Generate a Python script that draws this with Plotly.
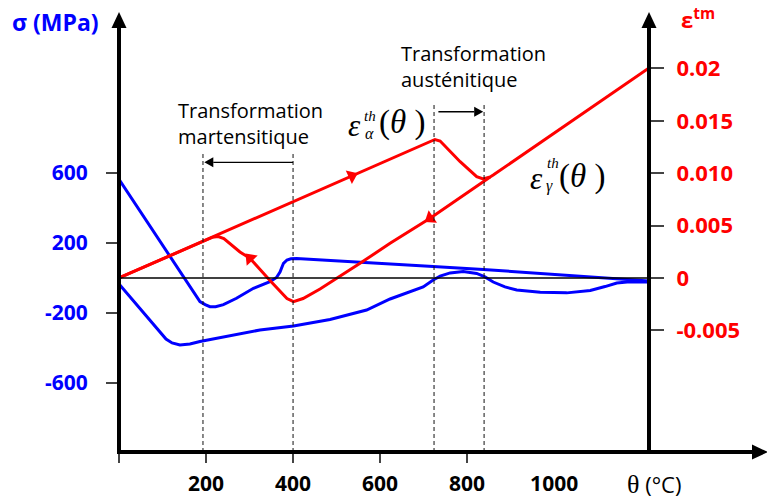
import plotly.graph_objects as go

# ---------------- data ----------------
# stress curves (MPa) vs temperature (°C)
theta_sig_heat = [0, 186, 198, 209, 222, 240, 270, 309, 347, 362, 370, 378, 386, 395, 408, 600, 722, 837, 968, 1105, 1218]
sig_heat = [564, -135, -152, -164, -164, -152, -116, -59, -21, 3, 34, 84, 103, 110, 111, 86, 66, 49, 26, 3, -17]

theta_sig_cool = [0, 108, 122, 140, 163, 186, 324, 401, 485, 569, 623, 699, 722, 738, 761, 791, 822, 841, 860, 887, 914, 968, 1029, 1083, 1117, 1144, 1174, 1218]
sig_cool = [-34, -349, -371, -383, -377, -363, -297, -274, -237, -183, -120, -51, -11, 11, 29, 37, 26, 6, -23, -51, -69, -82, -85, -71, -49, -29, -22, -23]

# thermo-metallurgical strain vs temperature
theta_eps_heat = [0, 715, 726, 738, 784, 822, 837, 853, 860, 1218]
eps_heat = [0, 0.01298, 0.01322, 0.01307, 0.01110, 0.00967, 0.00945, 0.00964, 0.00983, 0.02004]

theta_eps_cool = [853, 715, 623, 554, 462, 423, 401, 386, 347, 301, 278, 255, 241, 228, 214, 0]
eps_cool = [0.00964, 0.00570, 0.00331, 0.00140, -0.00105, -0.00196, -0.00226, -0.00196, -0.00024, 0.00188, 0.00248, 0.00329, 0.00377, 0.00396, 0.00388, 0]

# direction arrows on the strain curve
theta_arrows = [535, 715, 301]
eps_arrows = [0.00974, 0.00570, 0.00188]

# transformation temperatures (°C)
mf, ms = 193, 400
ac1, ac3 = 724, 839

x_tickvals = [200, 400, 600, 800, 1000]
x_ticktext = ["200", "400", "600", "800", "1000"]
x_minor_ticks = [0, 200, 400, 600, 800]
sig_tickvals = [600, 200, -200, -600]
sig_ticktext = ["600", "200", "-200", "-600"]
eps_tickvals = [0.02, 0.015, 0.010, 0.005, 0, -0.005]
eps_ticktext = ["0.02", "0.015", "0.010", "0.005", "0", "-0.005"]

# ---------------- layout helpers ----------------
W, H = 767, 500
PL, PR, PT, PB = 119, 649, 13, 452
XR = [0, 1218]
SIG_R = [-994.3, 1514.3]
EPS_R = [-0.016606, 0.025291]


def fx(px):
    return (px - PL) / (PR - PL)


def fy(py):
    return (PB - py) / (PB - PT)


def px_of_theta(t):
    return PL + (t - XR[0]) / (XR[1] - XR[0]) * (PR - PL)


def py_of_sig(s):
    return PB - (s - SIG_R[0]) / (SIG_R[1] - SIG_R[0]) * (PB - PT)


BLUE = "#0000FF"
RED = "#FF0000"
FONT = "Open Sans"
SERIF = "Liberation Serif"

fig = go.Figure()

fig.add_trace(go.Scatter(x=theta_sig_heat, y=sig_heat, mode="lines",
                         line=dict(color=BLUE, width=3), yaxis="y", hoverinfo="skip"))
fig.add_trace(go.Scatter(x=theta_sig_cool, y=sig_cool, mode="lines",
                         line=dict(color=BLUE, width=3), yaxis="y", hoverinfo="skip"))
fig.add_trace(go.Scatter(x=theta_eps_heat, y=eps_heat, mode="lines",
                         line=dict(color=RED, width=3), yaxis="y2", hoverinfo="skip"))
fig.add_trace(go.Scatter(x=theta_eps_cool, y=eps_cool, mode="lines",
                         line=dict(color=RED, width=3), yaxis="y2", hoverinfo="skip"))
fig.add_trace(go.Scatter(x=theta_arrows, y=eps_arrows, mode="markers", yaxis="y2",
                         marker=dict(symbol="triangle-up", size=13, color=RED,
                                     angle=[66, -124, -43], line=dict(width=0)),
                         hoverinfo="skip"))

shapes = []
# zero line
shapes.append(dict(type="line", xref="x", yref="y", x0=XR[0], x1=XR[1], y0=0, y1=0,
                   line=dict(color="black", width=1.3)))
# dashed transformation lines
for t, top in [(mf, 714), (ms, 714), (ac1, 1000), (ac3, 1000)]:
    shapes.append(dict(type="line", xref="x", yref="y", x0=t, x1=t, y0=SIG_R[0], y1=top,
                       line=dict(color="#111111", width=1, dash="4px,3px")))


def h_arrow(t_tail, t_tip, sig):
    x_tail, x_tip, y = px_of_theta(t_tail), px_of_theta(t_tip), py_of_sig(sig)
    d = 1 if x_tip > x_tail else -1
    base = x_tip - d * 9
    shapes.append(dict(type="line", xref="paper", yref="paper", x0=fx(x_tail), x1=fx(base),
                       y0=fy(y), y1=fy(y), line=dict(color="black", width=1.3)))
    shapes.append(dict(type="path", xref="paper", yref="paper",
                       path=f"M {fx(x_tip)},{fy(y)} L {fx(base)},{fy(y - 5)} L {fx(base)},{fy(y + 5)} Z",
                       fillcolor="black", line=dict(width=0)))


h_arrow(ms, mf + 3, 661)
h_arrow(ac1 + 10, ac3 - 2, 950)

# axis lines with arrow heads
for ax_px in (PL, PR):
    shapes.append(dict(type="line", xref="paper", yref="paper", x0=fx(ax_px), x1=fx(ax_px),
                       y0=fy(454), y1=fy(26), line=dict(color="black", width=4)))
    shapes.append(dict(type="path", xref="paper", yref="paper",
                       path=f"M {fx(ax_px)},{fy(12)} L {fx(ax_px - 7.5)},{fy(28)} L {fx(ax_px + 7.5)},{fy(28)} Z",
                       fillcolor="black", line=dict(width=0)))
shapes.append(dict(type="line", xref="paper", yref="paper", x0=fx(117), x1=fx(755),
                   y0=fy(452), y1=fy(452), line=dict(color="black", width=4)))
shapes.append(dict(type="path", xref="paper", yref="paper",
                   path=f"M {fx(768)},{fy(452)} L {fx(752)},{fy(444.5)} L {fx(752)},{fy(459.5)} Z",
                   fillcolor="black", line=dict(width=0)))

annotations = []


def txt(text, px, py, size, color="black", xanchor="left", yanchor="middle", family=FONT,
        weight="normal", style="normal", align="left"):
    annotations.append(dict(text=text, x=fx(px), y=fy(py), xref="paper", yref="paper",
                            xanchor=xanchor, yanchor=yanchor, showarrow=False, align=align,
                            font=dict(family=family, size=size, color=color, weight=weight, style=style)))


txt("Transformation<br>martensitique", 176, 123.5, 20)
txt("Transformation<br>austénitique", 399, 66.5, 20)
txt("σ (MPa)", 10, 22, 23, color=BLUE, weight="bold")
txt("ε<sup>tm</sup>", 679, 1, 22, color=RED, weight="bold", yanchor="top")
txt("<span style='font-family:Liberation Serif;font-size:26px'>θ</span> (°C)", 654, 484, 22, xanchor="center")

# epsilon alpha label
txt("ε", 346, 126, 31, family=SERIF, style="italic")
txt("th", 362, 116, 15, family=SERIF, style="italic")
txt("α", 363, 134, 16, family=SERIF, style="italic")
txt("(<i>θ</i> )", 377, 123, 33, family=SERIF)
# epsilon gamma label
txt("ε", 528, 179, 31, family=SERIF, style="italic")
txt("th", 545, 163, 15, family=SERIF, style="italic")
txt("γ", 544, 186, 16, family=SERIF, style="italic")
txt("(<i>θ</i> )", 557, 177, 33, family=SERIF)

fig.update_layout(
    width=W, height=H,
    margin=dict(l=PL, r=W - PR, t=PT, b=H - PB, pad=0, autoexpand=False),
    paper_bgcolor="white", plot_bgcolor="white",
    showlegend=False,
    shapes=shapes, annotations=annotations,
    xaxis=dict(range=XR, showgrid=False, zeroline=False, showline=False, automargin=False,
               tickmode="array", tickvals=x_tickvals, ticktext=x_ticktext, ticks="",
               ticklabelstandoff=17,
               tickfont=dict(family=FONT, size=21, color="black", weight="bold"),
               minor=dict(tickmode="array", tickvals=x_minor_ticks, ticks="outside",
                          ticklen=10, tickwidth=1.5, tickcolor="#444444")),
    yaxis=dict(range=SIG_R, showgrid=False, zeroline=False, showline=False, automargin=False,
               tickmode="array", tickvals=sig_tickvals, ticktext=sig_ticktext,
               ticks="outside", ticklen=12, tickwidth=1.5, tickcolor="#444444",
               ticklabelstandoff=14,
               tickfont=dict(family=FONT, size=21, color=BLUE, weight="bold")),
    yaxis2=dict(range=EPS_R, overlaying="y", side="right", anchor="x", automargin=False,
                showgrid=False, zeroline=False, showline=False,
                tickmode="array", tickvals=eps_tickvals, ticktext=eps_ticktext,
                ticks="outside", ticklen=14, tickwidth=1.5, tickcolor="#444444",
                ticklabelstandoff=8,
                tickfont=dict(family=FONT, size=22, color=RED, weight="bold")),
)

fig.write_html("out.html", config={"displayModeBar": False},
               post_script="document.body.style.margin='0';")
